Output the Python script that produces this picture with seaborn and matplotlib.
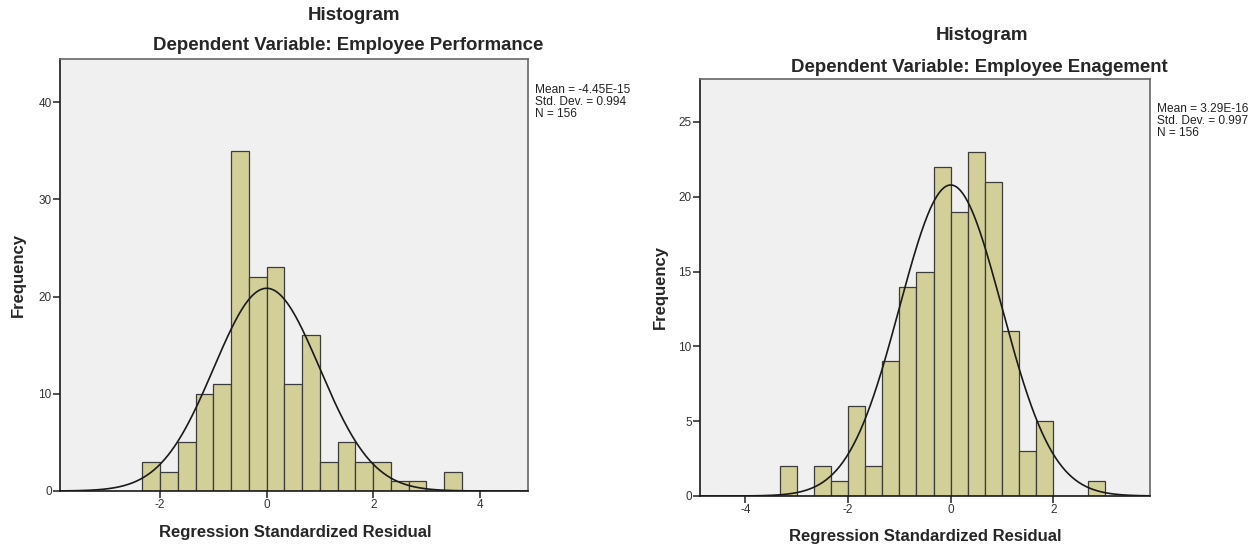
import numpy as np
import pandas as pd
import seaborn as sns
import matplotlib.pyplot as plt

# --- DATA ---
perf_edges = [-2.333, -2.0, -1.667, -1.333, -1.0, -0.667, -0.333, 0.0, 0.333,
              0.667, 1.0, 1.333, 1.667, 2.0, 2.333, 2.667, 3.0, 3.333, 3.667]
perf_counts = [3, 2, 5, 10, 11, 35, 22, 23, 11, 16, 3, 5, 3, 3, 1, 1, 0, 2]
perf_stats = {'mean': -4.45e-15, 'sd': 0.994, 'n': 156}
perf_stats_text = ['Mean = -4.45E-15', 'Std. Dev. = 0.994', 'N = 156']

eng_edges = [-3.333, -3.0, -2.667, -2.333, -2.0, -1.667, -1.333, -1.0, -0.667,
             -0.333, 0.0, 0.333, 0.667, 1.0, 1.333, 1.667, 2.0, 2.333, 2.667, 3.0]
eng_counts = [2, 0, 2, 1, 6, 2, 9, 14, 15, 22, 19, 23, 21, 11, 3, 5, 0, 0, 1]
eng_stats = {'mean': 3.29e-16, 'sd': 0.997, 'n': 156}
eng_stats_text = ['Mean = 3.29E-16', 'Std. Dev. = 0.997', 'N = 156']

BAR = '#d3cf98'
EDGE = '#3c3c3c'
FACE = '#f0f0f0'

sns.set_theme(style='white')
plt.rcParams['font.family'] = ['Liberation Sans', 'DejaVu Sans']


def draw_panel(ax, edges, counts, stats, xlim, ylim, xticks, yticks):
    centers = [(a + b) / 2 for a, b in zip(edges[:-1], edges[1:])]
    df = pd.DataFrame({'residual': centers, 'count': counts})
    sns.histplot(data=df, x='residual', weights='count', bins=list(edges), ax=ax,
                 color=BAR, edgecolor=EDGE, linewidth=0.9, alpha=1)

    # fitted normal curve
    width = edges[1] - edges[0]
    xs = np.linspace(xlim[0], xlim[1], 400)
    ys = stats['n'] * width * np.exp(-0.5 * ((xs - stats['mean']) / stats['sd']) ** 2) \
        / (stats['sd'] * np.sqrt(2 * np.pi))
    sns.lineplot(x=xs, y=ys, ax=ax, color='#1a1a1a', linewidth=1.2)

    ax.set_facecolor(FACE)
    ax.set_xlim(*xlim)
    ax.set_ylim(*ylim)
    ax.set_xticks(xticks)
    ax.set_yticks(yticks)
    ax.set_xticklabels([str(t) for t in xticks])
    ax.set_yticklabels([str(t) for t in yticks])
    ax.tick_params(axis='both', direction='out', length=5, width=1.2, color='#333333',
                   labelsize=8.5, labelcolor='#333333', pad=1, bottom=True, left=True)
    for side in ['left', 'bottom']:
        ax.spines[side].set_color('#1a1a1a')
        ax.spines[side].set_linewidth(1.2)
    for side in ['top', 'right']:
        ax.spines[side].set_color('#666666')
        ax.spines[side].set_linewidth(1.2)
    ax.set_xlabel('')
    ax.set_ylabel('')


fig = plt.figure(figsize=(12.6, 5.5), dpi=100)

ax1 = fig.add_axes([0.0476, 0.1073, 0.3712, 0.7849])
draw_panel(ax1, perf_edges, perf_counts, perf_stats,
           (-3.88, 4.9), (0, 44.4), [-2, 0, 2, 4], [0, 10, 20, 30, 40])

ax2 = fig.add_axes([0.5556, 0.0982, 0.3571, 0.7576])
draw_panel(ax2, eng_edges, eng_counts, eng_stats,
           (-4.88, 3.88), (0, 27.85), [-4, -2, 0, 2], [0, 5, 10, 15, 20, 25])

# titles and labels (pixel positions)
W, H = 1260, 550
def ftext(x, y, s, **kw):
    fig.text(x / W, 1 - y / H, s, **kw)

ftext(354, 15, 'Histogram', ha='center', va='center', fontsize=13.5, fontweight='bold')
ftext(348, 46, 'Dependent Variable: Employee Performance', ha='center', va='center',
      fontsize=13.4, fontweight='bold')
ftext(982, 36, 'Histogram', ha='center', va='center', fontsize=13.5, fontweight='bold')
ftext(979, 67, 'Dependent Variable: Employee Enagement', ha='center', va='center',
      fontsize=13.4, fontweight='bold')

ftext(295, 533, 'Regression Standardized Residual', ha='center', va='center',
      fontsize=12, fontweight='bold')
ftext(925, 537, 'Regression Standardized Residual', ha='center', va='center',
      fontsize=12, fontweight='bold')
ftext(18, 275, 'Frequency', ha='center', va='center', rotation=90,
      fontsize=12, fontweight='bold')
ftext(660, 287, 'Frequency', ha='center', va='center', rotation=90,
      fontsize=12, fontweight='bold')

ftext(535, 84, '\n'.join(perf_stats_text), ha='left', va='top', fontsize=8.6,
      linespacing=1.0, color='#222222')
ftext(1157, 103, '\n'.join(eng_stats_text), ha='left', va='top', fontsize=8.6,
      linespacing=1.0, color='#222222')

fig.savefig('out.png', dpi=100, facecolor='white')
